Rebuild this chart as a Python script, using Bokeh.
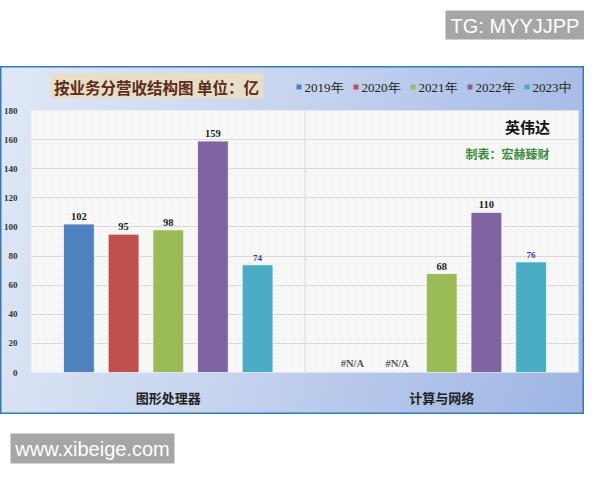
import numpy as np
from bokeh.plotting import figure
from bokeh.layouts import column
from bokeh.models import (ColumnDataSource, FactorRange, Range1d, FixedTicker,
                          BoxAnnotation, Label, Span)
from bokeh.transform import dodge
from bokeh.core.properties import value
from bokeh.embed import file_html
from bokeh.resources import INLINE

# ---------------- data ----------------
categories = ["图形处理器", "计算与网络"]
years = ["2019年", "2020年", "2021年", "2022年", "2023中"]
rev_2019 = [102, float("nan")]
rev_2020 = [95, float("nan")]
rev_2021 = [98, 68]
rev_2022 = [159, 110]
rev_2023 = [74, 76]
y_ticks = [0, 20, 40, 60, 80, 100, 120, 140, 160, 180]

title_text = "按业务分营收结构图 单位：亿"
company_text = "英伟达"
maker_text = "制表：宏赫臻财"
wm_top_text = "TG: MYYJJPP"
wm_bottom_text = "www.xibeige.com"
na_text = "#N/A"

series = [rev_2019, rev_2020, rev_2021, rev_2022, rev_2023]
colors = ["#4f81bd", "#c0504d", "#9bbb59", "#8064a2", "#4bacc6"]

W = 584
TOP_H, HEAD_H, PLOT_H, BOT_H = 66, 38, 310, 50
FL, FR = 27, 578          # plot frame x (canvas px)
FT, FB = 6, 42            # plot frame top / bottom border
U = "canvas"


def blank(h, transparent=False):
    f = figure(width=W, height=h, x_range=Range1d(0, W), y_range=Range1d(h, 0),
               min_border=0, x_axis_location=None, y_axis_location=None,
               output_backend="svg", toolbar_location=None)
    f.grid.visible = False
    f.outline_line_color = None
    if transparent:
        f.border_fill_alpha = 0
        f.background_fill_alpha = 0
    else:
        f.border_fill_color = "white"
        f.background_fill_color = "white"
    return f


def cbox(f, l, r, t, b, **kw):
    f.add_layout(BoxAnnotation(left=l, right=r, top=t, bottom=b,
                               left_units=U, right_units=U, top_units=U, bottom_units=U,
                               line_alpha=0, fill_alpha=1, **kw))


def clabel(f, x, y, txt, **kw):
    f.add_layout(Label(x=x, y=y, x_units=U, y_units=U, text=txt,
                       text_baseline="middle", **kw))


def wm_box(f, l, r, t, b, txt):
    cbox(f, l, r, t, b, fill_color="#a6a6a6")
    clabel(f, (l + r) / 2, (t + b) / 2 + 0.5, txt, text_font="Liberation Sans",
           text_font_size="20px", text_color="white", text_align="center")


# ---------------- top watermark strip ----------------
p_top = blank(TOP_H)
wm_box(p_top, 445, 584, 10, 39, wm_top_text)

# ---------------- header (title + legend) ----------------
p_head = blank(HEAD_H, transparent=True)
cbox(p_head, 50, 263, 7, 32, fill_color="#e8dec5")
clabel(p_head, 156, 20, title_text, text_font="Noto Sans CJK SC",
       text_font_style="bold", text_font_size="15.5px", text_color="#5b2a20",
       text_align="center")
leg_x0, leg_pitch, leg_y = 296, 57, 21
for k, (yr, col) in enumerate(zip(years, colors)):
    lx = leg_x0 + k * leg_pitch
    cbox(p_head, lx, lx + 5, leg_y - 3, leg_y + 2, fill_color=col)
    clabel(p_head, lx + 8, leg_y, yr, text_font="Liberation Serif",
           text_font_size="13px", text_color="#222222", text_align="left")

# ---------------- main plot ----------------
p = figure(width=W, height=PLOT_H,
           x_range=FactorRange(*categories, range_padding=0, factor_padding=0),
           y_range=Range1d(0, 180),
           output_backend="svg", toolbar_location=None,
           min_border_left=FL, min_border_right=W - FR,
           min_border_top=FT, min_border_bottom=FB)
p.border_fill_alpha = 0
p.background_fill_color = "white"
p.outline_line_color = None

p.add_layout(BoxAnnotation(fill_alpha=0, line_alpha=0,
                           hatch_pattern="right_diagonal_line", hatch_color="#e3e3e3",
                           hatch_scale=4, hatch_weight=0.6, level="underlay"))

p.xgrid.visible = False
p.ygrid.ticker = FixedTicker(ticks=y_ticks)
p.ygrid.grid_line_color = "#d6d6d6"
p.ygrid.grid_line_width = 1
p.add_layout(Span(location=1.0, dimension="height", line_color="#d6d6d6",
                  line_width=1, level="underlay"))

p.yaxis.ticker = FixedTicker(ticks=y_ticks)
p.yaxis.axis_line_color = None
p.yaxis.major_tick_line_color = None
p.yaxis.minor_tick_line_color = None
p.yaxis.major_label_text_font = "Liberation Serif"
p.yaxis.major_label_text_font_size = "9px"
p.yaxis.major_label_text_font_style = "bold"
p.yaxis.major_label_text_color = "#333333"
p.yaxis.major_label_standoff = 8

p.xaxis.axis_line_color = None
p.xaxis.major_tick_line_color = None
p.xaxis.minor_tick_line_color = None
p.xaxis.major_label_text_font = "Noto Sans CJK SC"
p.xaxis.major_label_text_font_size = "13px"
p.xaxis.major_label_text_font_style = "bold"
p.xaxis.major_label_text_color = "#222222"
p.xaxis.major_label_standoff = 9

unit = (FR - FL) / len(categories)
pitch = 45 / unit
bw = 31 / unit
for i, (vals, col) in enumerate(zip(series, colors)):
    off = (i - 2) * pitch
    src = ColumnDataSource(dict(cat=categories, val=vals))
    p.vbar(x=dodge("cat", off, range=p.x_range), top="val", width=bw, source=src,
           fill_color=col, line_color="white", line_alpha=0.7, line_width=1)
    ys, ts, cs = [], [], []
    for v in vals:
        if np.isnan(v):
            ys.append(0); ts.append(na_text); cs.append("#555555")
        else:
            ys.append(v); ts.append(str(int(v)))
            cs.append("#3a3aa6" if i == 4 else "#222222")
    lsrc = ColumnDataSource(dict(cat=categories, y=ys, t=ts, c=cs))
    p.text(x=dodge("cat", off, range=p.x_range), y="y", text="t", source=lsrc,
           text_color="c", text_font=value("Liberation Serif"), text_font_style="bold",
           text_font_size="9px" if i == 4 else "10.5px",
           text_align="center", text_baseline="bottom", y_offset=-4)

clabel(p, 527, 22, company_text, text_font="Noto Sans CJK SC", text_font_style="bold",
       text_font_size="15px", text_color="#111111", text_align="center")
clabel(p, 507, 49, maker_text, text_font="Noto Sans CJK SC", text_font_style="bold",
       text_font_size="12px", text_color="#3d8b3d", text_align="center")

# ---------------- bottom watermark strip ----------------
p_bot = blank(BOT_H)
wm_box(p_bot, 10, 174, 19, 49, wm_bottom_text)

panel = column(p_head, p,
               styles={"background-image": "linear-gradient(105deg, #e0e8f6 0%, #c6d4ee 45%, #b3c5ea 70%, #9fb5e4 100%)",
                       "box-shadow": "inset 0 0 0 1.5px #3b78b8"})
layout = column(p_top, panel, p_bot)

open("out.html", "w").write(file_html(layout, INLINE))
